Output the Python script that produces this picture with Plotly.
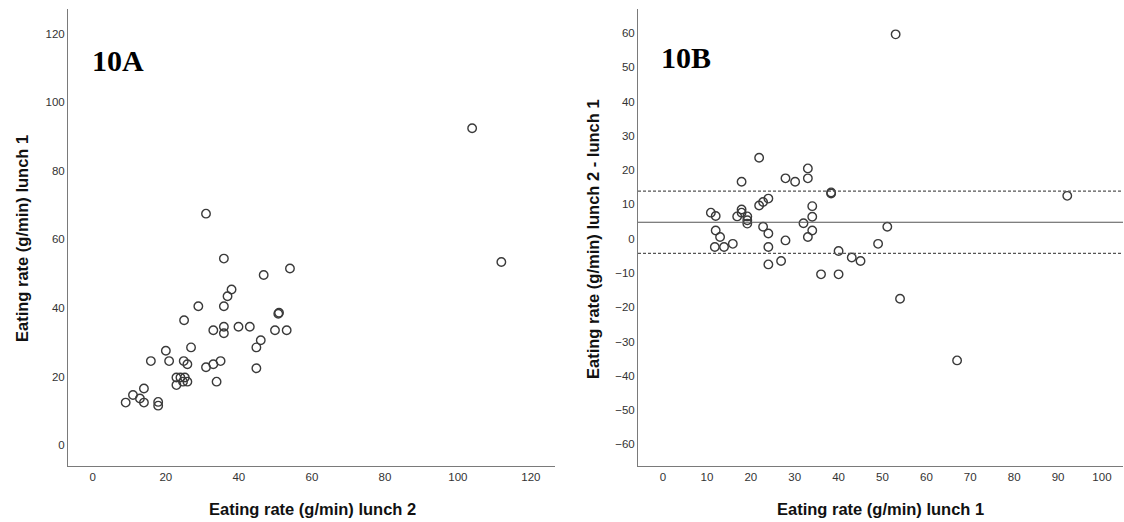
import plotly.graph_objects as go

W, H = 1124, 522

# ---- Panel 10A data: x = lunch 2, y = lunch 1 ----
lunch2_A = [35.9, 54.0, 46.8, 38.0, 36.9, 28.9, 35.9, 51.0, 50.8, 25.0, 33.0, 35.9, 35.9,
            39.9, 43.0, 49.9, 53.1, 46.0, 44.8, 26.9, 20.0, 15.9, 20.9, 24.9, 25.9,
            35.0, 33.0, 31.0, 44.8, 22.9, 24.0, 25.2, 22.9, 24.7, 25.9, 33.9, 14.0,
            11.0, 12.9, 9.0, 14.0, 17.9, 17.9, 31.0, 103.9, 111.9]
lunch1_A = [54.4, 51.5, 49.6, 45.4, 43.4, 40.5, 40.5, 38.6, 38.3, 36.4, 33.5, 34.5, 32.6,
            34.5, 34.5, 33.5, 33.5, 30.6, 28.5, 28.5, 27.5, 24.5, 24.5, 24.5, 23.6,
            24.5, 23.6, 22.7, 22.4, 19.7, 19.7, 19.7, 17.5, 18.5, 18.5, 18.5, 16.5,
            14.6, 13.6, 12.4, 12.4, 12.6, 11.5, 67.5, 92.4, 53.4]

# ---- Panel 10B data: x = lunch 1, y = lunch 2 - lunch 1 ----
lunch1_B = [21.9, 33.0, 27.9, 30.1, 33.0, 17.9, 38.3, 38.3, 24.0, 22.8, 21.9, 34.0,
            10.9, 12.0, 17.9, 17.9, 16.9, 19.2, 19.2, 19.2, 12.0, 13.0, 11.8, 13.9,
            15.9, 22.8, 24.0, 24.0, 24.0, 26.9, 27.9, 32.0, 34.0, 34.0, 33.0, 40.0,
            43.0, 45.0, 36.0, 40.0, 49.0, 51.1, 54.0, 53.0, 92.1, 67.0]
diff_B = [23.6, 20.5, 17.6, 16.6, 17.6, 16.6, 13.5, 13.2, 11.7, 10.7, 9.7, 9.5,
          7.6, 6.6, 8.5, 7.6, 6.5, 6.5, 5.4, 4.4, 2.4, 0.5, -2.4, -2.4,
          -1.5, 3.5, 1.5, -2.4, -7.5, -6.5, -0.5, 4.5, 6.4, 2.4, 0.5, -3.6,
          -5.5, -6.5, -10.4, -10.4, -1.5, 3.5, -17.5, 59.6, 12.5, -35.5]
mean_diff = 4.8
upper_limit = 13.9
lower_limit = -4.3

ticks_A = [0, 20, 40, 60, 80, 100, 120]
ticks_Bx = [0, 10, 20, 30, 40, 50, 60, 70, 80, 90, 100]
ticks_By = [-60, -50, -40, -30, -20, -10, 0, 10, 20, 30, 40, 50, 60]


def px(x):
    return x / W


def py(y):
    return 1 - y / H


marker = dict(symbol="circle-open", size=8.5, color="#3a3a3a", line=dict(width=1.4))

fig = go.Figure()
fig.add_trace(go.Scatter(x=lunch2_A, y=lunch1_A, mode="markers", marker=marker,
                         xaxis="x", yaxis="y", showlegend=False))
fig.add_trace(go.Scatter(x=lunch1_B, y=diff_B, mode="markers", marker=marker,
                         xaxis="x2", yaxis="y2", showlegend=False))

tickfont = dict(family="Liberation Sans, Arial, sans-serif", size=11.5, color="#333333")
axis_common = dict(showline=True, linecolor="#7a7a7a", linewidth=1, showgrid=False,
                   zeroline=False, ticks="", tickfont=tickfont, automargin=False)

fig.update_layout(
    width=W, height=H,
    margin=dict(l=0, r=0, t=0, b=0),
    paper_bgcolor="white", plot_bgcolor="white",
    xaxis=dict(domain=[px(68), px(555)], range=[-6.8, 126.6], tickvals=ticks_A,
               anchor="y", **axis_common),
    yaxis=dict(domain=[py(466), py(9)], range=[-6.1, 127.2], tickvals=ticks_A,
               anchor="x", **axis_common),
    xaxis2=dict(domain=[px(638), px(1123)], range=[-5.7, 104.8], tickvals=ticks_Bx,
                anchor="y2", **axis_common),
    yaxis2=dict(domain=[py(466), py(9)], range=[-66.3, 67.0], tickvals=ticks_By,
                anchor="x2", **axis_common),
)

# Reference lines in panel B
for val, dash in [(mean_diff, "solid"), (upper_limit, "3px,2px"), (lower_limit, "3px,2px")]:
    fig.add_shape(type="line", xref="x2 domain", yref="y2", x0=0, x1=1, y0=val, y1=val,
                  line=dict(color="#555555", width=1.2, dash=dash))

title_font = dict(family="Liberation Sans, Arial, sans-serif", size=16.5, color="#111111")
ann = [
    dict(text="<b>Eating rate (g/min) lunch 2</b>", x=px(312), y=py(509)),
    dict(text="<b>Eating rate (g/min) lunch 1</b>", x=px(880), y=py(509)),
    dict(text="<b>Eating rate (g/min) lunch 1</b>", x=px(22), y=py(239), textangle=-90),
    dict(text="<b>Eating rate (g/min) lunch 2 - lunch 1</b>", x=px(593), y=py(239), textangle=-90),
]
for a in ann:
    fig.add_annotation(xref="paper", yref="paper", showarrow=False, xanchor="center",
                       yanchor="middle", font=title_font, **a)

panel_font = dict(family="Liberation Serif, Times New Roman, serif", size=30, color="black")
fig.add_annotation(text="<b>10A</b>", xref="paper", yref="paper", x=px(90), y=py(61),
                   xanchor="left", yanchor="middle", showarrow=False, font=panel_font)
fig.add_annotation(text="<b>10B</b>", xref="paper", yref="paper", x=px(659), y=py(57),
                   xanchor="left", yanchor="middle", showarrow=False, font=panel_font)

fig.write_html("out.html")
